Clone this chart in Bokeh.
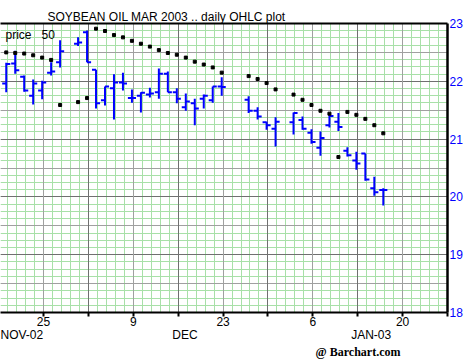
import numpy as np
from bokeh.plotting import figure
from bokeh.models import (Range1d, LinearAxis, FixedTicker, Grid, Label, Title, ColumnDataSource)
from bokeh.embed import file_html
from bokeh.resources import INLINE

# ---------------- data ----------------
dates = ["2002-11-19", "2002-11-20", "2002-11-21", "2002-11-22", "2002-11-25", "2002-11-26",
         "2002-11-27", "2002-11-29", "2002-12-02", "2002-12-03", "2002-12-04", "2002-12-05",
         "2002-12-06", "2002-12-09", "2002-12-10", "2002-12-11", "2002-12-12", "2002-12-13",
         "2002-12-16", "2002-12-17", "2002-12-18", "2002-12-19", "2002-12-20", "2002-12-23",
         "2002-12-26", "2002-12-27", "2002-12-30", "2002-12-31", "2003-01-02", "2003-01-03",
         "2003-01-06", "2003-01-07", "2003-01-08", "2003-01-09", "2003-01-10", "2003-01-13",
         "2003-01-14", "2003-01-15", "2003-01-16"]
open_ = [21.96, 22.31, 22.08, 21.75, 21.84, 22.15, 22.33, 22.65, 22.85, 22.20, 21.67, 21.88,
         21.98, 21.71, 21.75, 21.77, 21.81, 22.13, 21.81, 21.55, 21.62, 21.70, 21.67, 21.91,
         21.68, 21.49, 21.29, 21.18, 21.29, 21.33, 21.11, 20.85, 21.24, 21.30, 20.80, 20.63,
         20.75, 20.15, 20.12]
high = [22.32, 22.53, 22.10, 22.03, 22.01, 22.33, 22.71, 22.76, 22.88, 22.20, 21.91, 22.12,
        22.15, 21.86, 21.81, 21.89, 22.22, 22.17, 21.88, 21.79, 21.70, 21.77, 21.91, 22.07,
        21.74, 21.55, 21.30, 21.38, 21.46, 21.39, 21.17, 21.13, 21.45, 21.45, 20.86, 20.78,
        20.75, 20.35, 20.15]
low = [21.81, 22.13, 21.82, 21.60, 21.69, 22.10, 22.24, 22.61, 22.33, 21.53, 21.58, 21.34,
       21.84, 21.63, 21.46, 21.72, 21.70, 21.81, 21.62, 21.49, 21.24, 21.53, 21.63, 21.75,
       21.45, 21.34, 21.16, 20.87, 21.08, 21.16, 20.92, 20.71, 21.20, 21.14, 20.70, 20.47,
       20.28, 20.02, 19.85]
close = [22.30, 22.19, 21.84, 21.96, 21.98, 22.17, 22.52, 22.67, 22.33, 21.62, 21.91, 21.98,
         21.96, 21.71, 21.80, 21.79, 22.13, 21.81, 21.70, 21.65, 21.53, 21.75, 21.91, 21.90,
         21.49, 21.39, 21.24, 21.30, 21.45, 21.18, 20.95, 21.02, 21.40, 21.21, 20.72, 20.58,
         20.30, 20.08, 20.12]
sar = [22.50, 22.49, 22.48, 22.45, 22.41, 22.37, 21.59, 21.64, 21.71, 22.91, 22.87, 22.80,
       22.76, 22.70, 22.65, 22.60, 22.54, 22.49, 22.46, 22.41, 22.34, 22.29, 22.24, 22.15,
       22.09, 22.04, 21.97, 21.86, 21.77, 21.68, 21.59, 21.49, 21.44, 20.69, 21.47, 21.42,
       21.35, 21.24, 21.10]

week_dates = ["2002-11-18", "2002-11-25", "2002-12-02", "2002-12-09", "2002-12-16", "2002-12-23",
              "2002-12-30", "2003-01-06", "2003-01-13", "2003-01-20", "2003-01-27"]
week_labels = ["", "25", "", "9", "", "23", "", "6", "", "20", ""]
month_names = ["NOV-02", "DEC", "JAN-03"]
month_pos = [-3.6, 15.75, 36.5]
price_ticks = [18, 19, 20, 21, 22, 23]

BASE = "2002-11-25"
BLUE = "#0000ff"
FONT = "Liberation Sans"

def tidx(ds):
    return np.busday_count(BASE, np.array(ds, dtype="datetime64[D]")).astype(float)

idx = tidx(dates)
widx = [int(v) for v in tidx(week_dates)]

# ---------------- figure ----------------
p = figure(width=465, height=360, output_backend="svg", toolbar_location=None,
           x_range=Range1d(-4.79, 45), y_range=Range1d(18, 23),
           x_axis_location="below", y_axis_location="right",
           min_border_left=0, min_border_right=18, min_border_top=23, min_border_bottom=48,
           background_fill_color="white", border_fill_color="white",
           outline_line_color=None)
p.xgrid.visible = False
p.ygrid.visible = False

# title (above)
p.title.text = "SOYBEAN OIL MAR 2003 .. daily OHLC plot"
p.title.align = "left"
p.title.offset = 47
p.title.standoff = 0
p.title.vertical_align = "bottom"
p.title.text_font = FONT
p.title.text_font_size = "12px"
p.title.text_font_style = "normal"
p.title.text_color = "black"

GREEN = "#a8e0a8"
LIGHT = "#a0a0a0"
DARK = "#707070"
p.add_layout(Grid(dimension=0, ticker=FixedTicker(ticks=list(range(-5, 46))),
                  grid_line_color=GREEN, grid_line_width=1))
p.add_layout(Grid(dimension=1, ticker=FixedTicker(ticks=np.arange(18, 23.001, 0.125).tolist()),
                  grid_line_color=GREEN, grid_line_width=1))
p.add_layout(Grid(dimension=1, ticker=FixedTicker(ticks=[v + 0.5 for v in price_ticks[:-1]]),
                  grid_line_color=LIGHT, grid_line_width=1))
p.add_layout(Grid(dimension=1, ticker=FixedTicker(ticks=price_ticks),
                  grid_line_color=DARK, grid_line_width=1))
p.add_layout(Grid(dimension=0, ticker=FixedTicker(ticks=[w for w, l in zip(widx, week_labels) if l]),
                  grid_line_color=LIGHT, grid_line_width=1))
p.add_layout(Grid(dimension=0, ticker=FixedTicker(ticks=[w for w, l in zip(widx, week_labels) if not l]),
                  grid_line_color=DARK, grid_line_width=1))

# bottom axis (week ticks)
xa = p.xaxis[0]
xa.ticker = FixedTicker(ticks=widx)
xa.major_label_overrides = {w: l for w, l in zip(widx, week_labels)}
xa.minor_tick_line_color = None
xa.major_tick_out = 4
xa.major_tick_in = 0
xa.major_tick_line_width = 2
xa.major_tick_line_color = "black"
xa.axis_line_width = 2
xa.axis_line_color = "black"
xa.major_label_standoff = 0
xa.major_label_text_font = FONT
xa.major_label_text_font_size = "12px"
xa.major_label_text_color = "black"

# month axis
ma = LinearAxis(ticker=FixedTicker(ticks=month_pos),
                major_label_overrides=dict(zip(month_pos, month_names)),
                axis_line_color=None, major_tick_line_color=None, minor_tick_line_color=None,
                major_tick_out=0, major_tick_in=0, major_label_standoff=-1,
                major_label_text_font=FONT, major_label_text_font_size="12px",
                major_label_text_color="black")
p.add_layout(ma, "below")

# source credit (below, outermost)
credit = Title(text="@ Barchart.com", align="right", offset=47, standoff=0,
               vertical_align="top", text_font="Liberation Serif", text_font_style="bold",
               text_font_size="12px", text_color="black")
p.add_layout(credit, "below")

# right axis
ya = p.yaxis[0]
ya.ticker = FixedTicker(ticks=price_ticks)
ya.minor_tick_line_color = None
ya.major_tick_out = 0
ya.major_tick_in = 0
ya.axis_line_width = 2.5
ya.axis_line_color = "black"
ya.major_label_standoff = 2
ya.major_label_text_font = FONT
ya.major_label_text_font_size = "12px"
ya.major_label_text_color = BLUE

# top border
ta = LinearAxis(ticker=FixedTicker(ticks=[]), axis_line_width=2, axis_line_color="black",
                major_tick_line_color=None, minor_tick_line_color=None,
                major_tick_out=0, major_tick_in=0)
p.add_layout(ta, "above")

# ---------------- OHLC bars and SAR ----------------
SHIFT = -0.15
TICK = 0.45
x = idx + SHIFT
src = ColumnDataSource(dict(x=x, xl=x - TICK, xr=x + TICK, o=open_, h=high, l=low, c=close, s=sar))
p.segment(x0="x", y0="l", x1="x", y1="h", source=src, line_color=BLUE, line_width=2)
p.segment(x0="xl", y0="o", x1="x", y1="o", source=src, line_color=BLUE, line_width=2)
p.segment(x0="x", y0="c", x1="xr", y1="c", source=src, line_color=BLUE, line_width=2)
p.scatter(x="x", y="s", source=src, marker="square", size=3, color="black")

# ---------------- in-plot text ----------------
p.add_layout(Label(x=5, y=278, x_units="screen", y_units="screen",
                   text="price\u00a0\u00a0\u00a050",
                   text_font=FONT, text_font_size="12px", text_color="black",
                   text_baseline="alphabetic"))

open("out.html", "w").write(file_html(p, INLINE))
